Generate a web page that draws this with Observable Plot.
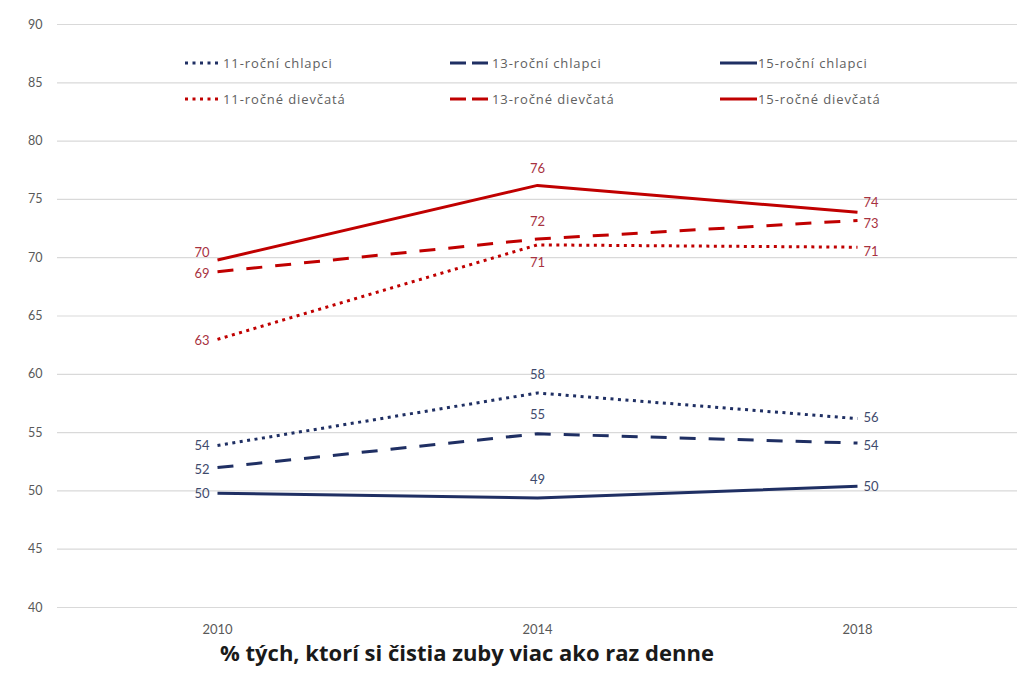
<!DOCTYPE html>
<html>
<head>
<meta charset="utf-8">
<script src="https://cdn.jsdelivr.net/npm/d3@7"></script>
<script src="https://cdn.jsdelivr.net/npm/@observablehq/plot@0.6"></script>
<style>
  html, body { margin: 0; padding: 0; background: #fff; }
  #wrap { position: relative; width: 1017px; height: 673px; font-family: Lato, "Open Sans", sans-serif; }
  #legend { position: absolute; left: 0; top: 0; width: 1017px; height: 120px; pointer-events: none; }
  .item { position: absolute; display: flex; align-items: center; font-family: "Open Sans", sans-serif; font-size: 13px; letter-spacing: 0.9px; color: #606060; white-space: nowrap; }
  .item svg { display: block; }
  #caption { position: absolute; left: 220px; top: 638px; font-family: "Open Sans", sans-serif; font-size: 22px; font-weight: 700; color: #1a1a1a; line-height: 28px; white-space: nowrap; }
</style>
</head>
<body>
<div id="wrap">
  <div id="chart"></div>
  <div id="legend"></div>
  <div id="caption">% tých, ktorí si čistia zuby viac ako raz denne</div>
</div>
<script>
// Survey years (category axis)
const years = ["2010", "2014", "2018"];

// Share brushing teeth more than once a day (%)
const chlapci11 = [53.9, 58.4, 56.2];
const chlapci13 = [52.0, 54.9, 54.1];
const chlapci15 = [49.8, 49.4, 50.4];
const dievcata11 = [63.0, 71.1, 70.9];
const dievcata13 = [68.8, 71.6, 73.2];
const dievcata15 = [69.8, 76.2, 73.9];

// Series names as shown in the legend
const names = [
  "11-roční chlapci", "13-roční chlapci", "15-roční chlapci",
  "11-ročné dievčatá", "13-ročné dievčatá", "15-ročné dievčatá"
];

// y-axis ticks
const yTicks = [40, 45, 50, 55, 60, 65, 70, 75, 80, 85, 90];

const NAVY = "#1f2f63", RED = "#c00000";
const NAVY_TXT = "#3e4a6c", RED_TXT = "#a8323f";
const DOT = "3,4.5", DASH = "16,13";

// Drawing style and value-label placement for each series
// label offsets: [dx, dy] at 2010 (left of point), 2014 (centred), 2018 (right of point)
const styles = [
  {values: chlapci11, stroke: NAVY, text: NAVY_TXT, dash: DOT, legendDash: "3,4.5", off: [[-8, 0], [0, -18], [6, -1]]},
  {values: chlapci13, stroke: NAVY, text: NAVY_TXT, dash: DASH, legendDash: "16,6", off: [[-8, 2], [0, -19], [6, 3]]},
  {values: chlapci15, stroke: NAVY, text: NAVY_TXT, dash: null, legendDash: null, off: [[-8, 1], [0, -18], [6, 1]]},
  {values: dievcata11, stroke: RED, text: RED_TXT, dash: DOT, legendDash: "3,4.5", off: [[-8, 2], [0, 18], [6, 5]]},
  {values: dievcata13, stroke: RED, text: RED_TXT, dash: DASH, legendDash: "16,6", off: [[-8, 2], [0, -17], [6, 3]]},
  {values: dievcata15, stroke: RED, text: RED_TXT, dash: null, legendDash: null, off: [[-8, -7], [0, -17], [6, -9]]}
];

const fmt = d3.format(".0f");

const marks = [
  Plot.gridY(yTicks, {stroke: "#d9d9d9", strokeOpacity: 1, strokeWidth: 1.2})
];

styles.forEach((s, i) => {
  const rows = years.map((yr, j) => ({year: yr, value: s.values[j], series: names[i]}));
  marks.push(Plot.line(rows, {
    x: "year", y: "value", stroke: s.stroke, strokeWidth: 3,
    strokeDasharray: s.dash ?? undefined, strokeLinecap: "butt", strokeLinejoin: "round"
  }));
  rows.forEach((r, j) => {
    marks.push(Plot.text([r], {
      x: "year", y: "value", text: d => fmt(d.value),
      fill: s.text, fontSize: 13,
      textAnchor: j === 0 ? "end" : j === 2 ? "start" : "middle",
      dx: s.off[j][0], dy: s.off[j][1]
    }));
  });
});

marks.push(
  Plot.axisY({ticks: yTicks, tickSize: 0, tickPadding: 15, fontSize: 12.5, color: "#595959", label: null}),
  Plot.axisX({tickSize: 0, tickPadding: 17, fontSize: 13, color: "#595959", label: null})
);

const chart = Plot.plot({
  width: 1017,
  height: 645,
  marginLeft: 57,
  marginRight: 0,
  marginTop: 24,
  marginBottom: 38,
  style: {fontFamily: "Lato, 'Open Sans', sans-serif", background: "#fff"},
  x: {type: "point", domain: years, padding: 0.5},
  y: {domain: [40, 90]},
  marks
});
document.getElementById("chart").appendChild(chart);

// Legend: two rows (boys, girls) by three columns (ages)
const legend = document.getElementById("legend");
const colLeft = [185, 450, 720];
const rowMid = [63, 99];
const sampleLen = [37, 41, 37];
styles.forEach((s, i) => {
  const col = i % 3, row = Math.floor(i / 3);
  const item = document.createElement("div");
  item.className = "item";
  item.style.left = colLeft[col] + "px";
  item.style.top = (rowMid[row] - 9) + "px";
  item.style.height = "18px";
  const len = sampleLen[col];
  const svg = d3.create("svg").attr("width", len + 1).attr("height", 18);
  svg.append("line")
    .attr("x1", 0).attr("x2", len).attr("y1", 9).attr("y2", 9)
    .attr("stroke", s.stroke).attr("stroke-width", 3)
    .attr("stroke-dasharray", s.legendDash);
  item.appendChild(svg.node());
  const span = document.createElement("span");
  span.textContent = names[i];
  item.appendChild(span);
  legend.appendChild(item);
});
</script>
</body>
</html>
